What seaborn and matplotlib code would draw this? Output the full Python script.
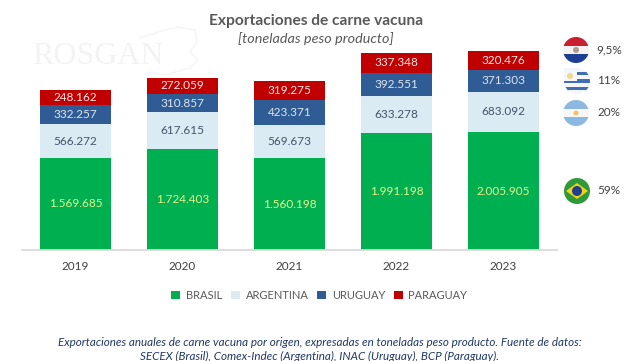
import numpy as np
import matplotlib
matplotlib.use("Agg")
import matplotlib.pyplot as plt
from matplotlib.patches import Circle, Rectangle, Polygon
import seaborn as sns

years = ["2019", "2020", "2021", "2022", "2023"]
brasil = [1569685, 1724403, 1560198, 1991198, 2005905]
argentina = [566272, 617615, 569673, 633278, 683092]
uruguay = [332257, 310857, 423371, 392551, 371303]
paraguay = [248162, 272059, 319275, 337348, 320476]
series_names = ["BRASIL", "ARGENTINA", "URUGUAY", "PARAGUAY"]
shares = ["9,5%", "11%", "20%", "59%"]

colors = ["#00B050", "#DAEBF3", "#2F5C94", "#C00000"]
label_colors = ["#E4F58C", "#44546A", "#DCE6F1", "#F7E6E6"]

sns.set_theme(style="white")
plt.rcParams["font.family"] = ["Lato", "DejaVu Sans"]

W, H = 640, 361
fig = plt.figure(figsize=(W / 100, H / 100), dpi=100)

# main axes, placed in pixels of the reference
ax = fig.add_axes([22 / W, 1 - 250 / H, 535 / W, 220 / H])
ax.patch.set_alpha(0)

bottom = np.zeros(len(years))
for name, vals, col, lab in zip(series_names, [brasil, argentina, uruguay, paraguay], colors, label_colors):
    vals = np.array(vals, dtype=float)
    sns.barplot(x=years, y=vals, bottom=bottom, color=col, saturation=1, width=0.665,
                label=name, ax=ax, linewidth=0, errorbar=None)
    for i in range(len(years)):
        txt = f"{int(vals[i]):,}".replace(",", ".")
        ax.text(i, bottom[i] + vals[i] / 2, txt, ha="center", va="center", fontsize=8.5, color=lab)
    bottom = bottom + vals

ax.set_xlim(-0.5, 4.5)
ax.set_ylim(0, 3740000)
ax.set_yticks([])
ax.set_xlabel("")
ax.set_ylabel("")
sns.despine(ax=ax, left=True)
ax.spines["bottom"].set_color("#D9D9D9")
ax.tick_params(axis="x", length=0, pad=8, labelsize=8.5, labelcolor="#404040")

ax.legend(loc="center", bbox_to_anchor=(0.556, -45.5 / 220), ncol=4, frameon=False,
          fontsize=8, labelcolor="#595959", handlelength=0.8, handleheight=0.8,
          handletextpad=0.5, columnspacing=0.8)

# overlay in pixel coordinates for titles, watermark and flags
ov = fig.add_axes([0, 0, 1, 1], zorder=-1)
ov.set_xlim(0, W)
ov.set_ylim(H, 0)
ov.axis("off")
top = fig.add_axes([0, 0, 1, 1], zorder=5)
top.set_xlim(0, W)
top.set_ylim(H, 0)
top.axis("off")
top.patch.set_alpha(0)

ov.text(98, 56, "ROSGAN", family="Liberation Serif", fontsize=23, color="#F3F3F3", ha="center", va="center")
ov.plot([140, 165, 178, 195, 197, 190, 198, 190, 165, 150],
        [38, 30, 27, 30, 42, 52, 60, 68, 75, 72], color="#F6F6F6", lw=1.2)

top.text(316, 21, "Exportaciones de carne vacuna", fontsize=11.2, fontweight="bold", color="#595959",
         ha="center", va="center")
top.text(316, 39, "[toneladas peso producto]", fontsize=10.4, style="italic", color="#595959",
         ha="center", va="center")
top.text(320, 342.5, "Exportaciones anuales de carne vacuna por origen, expresadas en toneladas peso producto. Fuente de datos:",
         fontsize=8.4, style="italic", color="#1F3864", ha="center", va="center")
top.text(320, 356, "SECEX (Brasil), Comex-Indec (Argentina), INAC (Uruguay), BCP (Paraguay).",
         fontsize=8.4, style="italic", color="#1F3864", ha="center", va="center")


def flag(cx, cy, stripes):
    clip = Circle((cx, cy), 13, transform=top.transData)
    n = len(stripes)
    for k, c in enumerate(stripes):
        r = Rectangle((cx - 13, cy - 13 + 26 * k / n), 26, 26 / n + 0.5, color=c, lw=0)
        top.add_patch(r)
        r.set_clip_path(clip)


flag_y = [50, 81, 113, 191]
flag(576, flag_y[0], ["#C8202F", "#F4F2F2", "#1C3F94"])
top.add_patch(Circle((576, flag_y[0]), 3, color="#B09A90", lw=0))
flag(577, flag_y[1], ["#F4F6FA", "#3F6FB5", "#F4F6FA", "#3F6FB5", "#F4F6FA", "#3F6FB5", "#F4F6FA"])
top.add_patch(Rectangle((564, flag_y[1] - 13), 13, 13, color="#F4F6FA", lw=0, zorder=3))
top.add_patch(Circle((570, flag_y[1] - 5), 3, color="#F2D98A", lw=0, zorder=4))
flag(576, flag_y[2], ["#8DB8E2", "#F7F7F7", "#8DB8E2"])
top.add_patch(Circle((576, flag_y[2]), 2.5, color="#F0C36A", lw=0))
top.add_patch(Circle((577, flag_y[3]), 13, color="#2F9A3A", lw=0))
top.add_patch(Polygon([[566, 191], [577, 183], [588, 191], [577, 199]], color="#F2D21B", lw=0))
top.add_patch(Circle((577, flag_y[3]), 5, color="#1F3F8F", lw=0))

for s, y in zip(shares, flag_y):
    top.text(609, y - 0.5, s, fontsize=8.5, color="#404040", ha="center", va="center")

fig.savefig("out.png", dpi=100)
